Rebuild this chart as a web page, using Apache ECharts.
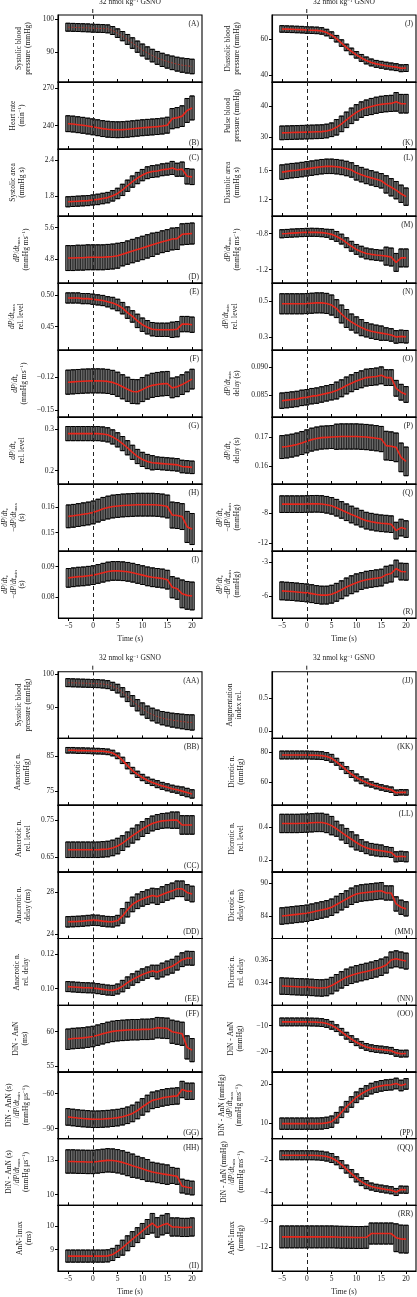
<!DOCTYPE html>
<html><head><meta charset="utf-8">
<script src="https://cdn.jsdelivr.net/npm/echarts@6/dist/echarts.min.js"></script>
<style>html,body{margin:0;padding:0;background:#fff}#c{width:417px;height:1297px}</style>
</head><body><div id="c"></div>
<script>
// ---------------- DATA ----------------
const TIME = [-5,-4,-3,-2,-1,0,1,2,3,4,5,6,7,8,9,10,11,12,13,14,15,16,17,18,19,20];
const X_TICKS = [-5,0,5,10,15,20];
const TITLE_TEXT = '32 nmol kg{sup|−1} GSNO';

const A_mean = [97.5,97.45,97.4,97.35,97.3,97.2,97.15,97.1,97.0,96.5,95.7,94.8,93.8,92.7,91.6,90.6,89.7,88.9,88.2,87.6,87.1,86.7,86.3,86.0,85.8,85.6];
const A_err  = [1.2,1.2,1.2,1.2,1.2,1.2,1.2,1.2,1.2,1.2,1.3,1.4,1.5,1.6,1.7,1.8,1.85,1.9,1.95,2.0,2.0,2.05,2.1,2.15,2.2,2.2];
const A_ticks = [90,100];
const B_mean = [241.5,241.2,240.7,240.2,239.6,239.0,238.3,237.6,237.1,236.8,236.7,236.8,237.1,237.5,237.9,238.3,238.6,238.9,239.2,239.6,240.3,245.5,246.3,247.5,252.0,254.0];
const B_err  = [6.3,6.3,6.3,6.3,6.3,6.3,6.3,6.3,6.3,6.3,6.3,6.3,6.3,6.3,6.3,6.3,6.3,6.3,6.3,6.3,6.3,8,8,8.2,9.5,9.5];
const B_ticks = [240,270];
const C_mean = [1.70,1.705,1.71,1.715,1.72,1.73,1.74,1.755,1.77,1.80,1.84,1.90,1.97,2.04,2.10,2.15,2.19,2.21,2.22,2.24,2.25,2.27,2.24,2.25,2.13,2.12];
const C_err  = [0.085,0.085,0.085,0.085,0.085,0.085,0.088,0.088,0.088,0.088,0.088,0.095,0.095,0.095,0.095,0.095,0.1,0.1,0.1,0.1,0.1,0.11,0.11,0.12,0.13,0.13];
const C_ticks = [1.8,2.4];
const D_mean = [4.82,4.82,4.83,4.83,4.84,4.84,4.84,4.84,4.85,4.86,4.88,4.92,4.96,5.00,5.04,5.08,5.12,5.16,5.20,5.24,5.27,5.31,5.32,5.43,5.44,5.45];
const D_err  = [0.32,0.32,0.32,0.32,0.32,0.32,0.32,0.32,0.32,0.32,0.32,0.3,0.3,0.3,0.3,0.3,0.3,0.3,0.28,0.28,0.28,0.28,0.28,0.27,0.27,0.27];
const D_ticks = [4.8,5.6];
const E_mean = [0.495,0.495,0.495,0.494,0.494,0.493,0.492,0.491,0.489,0.487,0.484,0.479,0.472,0.466,0.459,0.453,0.449,0.446,0.445,0.445,0.445,0.445,0.446,0.454,0.454,0.453];
const E_err  = [0.008,0.008,0.008,0.008,0.008,0.008,0.008,0.008,0.008,0.009,0.009,0.009,0.009,0.009,0.0105,0.0105,0.0105,0.0105,0.0105,0.0105,0.0105,0.012,0.012,0.012,0.012,0.012];
const E_ticks = [0.45,0.50];
const F_mean = [-0.1243,-0.1240,-0.1237,-0.1234,-0.1232,-0.1231,-0.1231,-0.1232,-0.1236,-0.1245,-0.1262,-0.1285,-0.1308,-0.1328,-0.1330,-0.1310,-0.1288,-0.1272,-0.1264,-0.1258,-0.1255,-0.1295,-0.1285,-0.1265,-0.1240,-0.1215];
const F_err  = [0.011,0.011,0.011,0.011,0.011,0.011,0.011,0.011,0.011,0.011,0.011,0.011,0.011,0.011,0.011,0.011,0.011,0.011,0.011,0.011,0.011,0.009,0.009,0.009,0.009,0.009];
const F_ticks = [-0.15,-0.12];
const G_mean = [0.289,0.289,0.289,0.289,0.289,0.289,0.289,0.288,0.286,0.281,0.274,0.265,0.255,0.244,0.234,0.227,0.222,0.219,0.218,0.217,0.216,0.215,0.214,0.210,0.209,0.208];
const G_err  = [0.017,0.017,0.017,0.017,0.017,0.017,0.017,0.017,0.017,0.017,0.017,0.017,0.017,0.017,0.017,0.017,0.017,0.017,0.015,0.015,0.015,0.015,0.015,0.015,0.015,0.015];
const G_ticks = [0.2,0.3];
const H_mean = [0.1563,0.1565,0.1568,0.1571,0.1574,0.1578,0.1585,0.1592,0.1597,0.1601,0.1603,0.1605,0.1606,0.1607,0.1608,0.1608,0.1608,0.1608,0.1607,0.1605,0.1601,0.1568,0.1566,0.1562,0.1522,0.1514];
const H_err  = [0.0044,0.0044,0.0044,0.0044,0.0044,0.0044,0.0044,0.0044,0.0044,0.0044,0.0044,0.0044,0.0044,0.0044,0.0044,0.0044,0.0044,0.0044,0.0044,0.0044,0.0044,0.005,0.005,0.005,0.006,0.006];
const H_ticks = [0.15,0.16];
const I_mean = [0.0863,0.0865,0.0867,0.0868,0.0870,0.0872,0.0876,0.0880,0.0884,0.0886,0.0886,0.0885,0.0883,0.0880,0.0876,0.0872,0.0868,0.0865,0.0863,0.0861,0.0857,0.0832,0.0827,0.0810,0.0805,0.0803];
const I_err  = [0.0031,0.0031,0.0031,0.0031,0.0031,0.0031,0.0031,0.0031,0.0031,0.0031,0.0031,0.0031,0.0031,0.0031,0.0031,0.0031,0.0031,0.0031,0.0031,0.0031,0.0031,0.0035,0.0035,0.0046,0.0046,0.0046];
const I_ticks = [0.08,0.09];

const J_mean = [65.6,65.5,65.4,65.3,65.2,65.0,64.9,64.8,64.5,63.6,62.2,60.2,57.8,55.4,53.2,51.3,49.6,48.2,47.1,46.3,45.8,45.3,44.9,44.5,43.9,44.0];
const J_err  = [1.8,1.8,1.8,1.8,1.8,1.8,1.8,1.8,1.8,1.8,1.8,1.8,1.8,1.8,1.8,1.8,1.9,1.9,1.9,1.9,1.9,1.9,1.9,1.9,1.9,1.9];
const J_ticks = [40,60];
const K_mean = [31.5,31.55,31.6,31.65,31.7,31.75,31.8,31.85,31.9,32.1,32.5,33.3,34.4,35.7,37.0,38.1,39.0,39.6,40.0,40.4,40.7,40.9,41.0,41.5,40.9,40.9];
const K_err  = [2.2,2.2,2.2,2.2,2.2,2.2,2.2,2.2,2.2,2.2,2.2,2.5,2.5,2.5,2.5,2.5,2.5,2.5,2.6,2.6,2.6,2.6,2.6,3.0,3.0,3.0];
const K_ticks = [30,40];
const L_mean = [1.58,1.59,1.60,1.605,1.615,1.625,1.635,1.645,1.655,1.66,1.66,1.655,1.645,1.63,1.61,1.57,1.545,1.52,1.50,1.48,1.46,1.41,1.37,1.33,1.28,1.24];
const L_err  = [0.1,0.1,0.1,0.1,0.1,0.1,0.1,0.1,0.1,0.1,0.1,0.1,0.1,0.1,0.1,0.1,0.1,0.1,0.1,0.1,0.1,0.12,0.12,0.12,0.12,0.12];
const L_ticks = [1.2,1.6];
const M_mean = [-0.800,-0.797,-0.793,-0.790,-0.787,-0.785,-0.784,-0.785,-0.788,-0.795,-0.807,-0.83,-0.86,-0.90,-0.94,-0.975,-1.00,-1.02,-1.03,-1.037,-1.043,-1.05,-1.06,-1.12,-1.07,-1.07];
const M_err  = [0.045,0.045,0.045,0.045,0.045,0.045,0.045,0.045,0.045,0.045,0.055,0.055,0.055,0.055,0.055,0.055,0.06,0.06,0.06,0.06,0.06,0.1,0.1,0.1,0.1,0.1];
const M_ticks = [-1.2,-0.8];
const N_mean = [0.487,0.487,0.487,0.487,0.487,0.488,0.490,0.492,0.492,0.489,0.480,0.46,0.43,0.405,0.385,0.369,0.354,0.342,0.334,0.328,0.323,0.318,0.313,0.302,0.305,0.303];
const N_err  = [0.056,0.056,0.056,0.056,0.056,0.056,0.056,0.056,0.056,0.056,0.056,0.05,0.05,0.05,0.045,0.045,0.045,0.04,0.04,0.04,0.04,0.035,0.035,0.035,0.035,0.035];
const N_ticks = [0.3,0.5];
const O_mean = [0.0840,0.0841,0.0842,0.0843,0.0845,0.0846,0.0848,0.0849,0.0851,0.0853,0.0855,0.0858,0.0862,0.0867,0.0871,0.0875,0.0878,0.0881,0.0882,0.0883,0.0885,0.0881,0.0881,0.0862,0.0855,0.0851];
const O_err  = [0.00137,0.00137,0.00137,0.00137,0.00137,0.00137,0.00137,0.00137,0.00137,0.00137,0.00137,0.0015,0.0015,0.0015,0.0015,0.0015,0.0015,0.0015,0.0015,0.0015,0.0015,0.0014,0.0014,0.0014,0.0014,0.0014];
const O_ticks = [0.085,0.090];
const P_mean = [0.1666,0.1668,0.1671,0.1675,0.1680,0.1686,0.1692,0.1696,0.1699,0.1700,0.1701,0.1702,0.1703,0.1703,0.1703,0.1703,0.1702,0.1701,0.1699,0.1697,0.1694,0.1671,0.1669,0.1665,0.1630,0.1616];
const P_err  = [0.004,0.004,0.004,0.004,0.004,0.004,0.004,0.004,0.004,0.004,0.004,0.0044,0.0044,0.0044,0.0044,0.0044,0.0044,0.0044,0.0044,0.0044,0.0044,0.005,0.005,0.005,0.005,0.005];
const P_ticks = [0.16,0.17];
const Q_mean = [-6.8,-6.8,-6.8,-6.8,-6.8,-6.78,-6.76,-6.75,-6.78,-6.88,-7.02,-7.27,-7.56,-7.87,-8.17,-8.44,-8.72,-8.98,-9.12,-9.24,-9.33,-9.38,-9.45,-10.3,-9.9,-10.1];
const Q_err  = [1.1,1.1,1.1,1.1,1.1,1.1,1.1,1.1,1.1,1.1,1.1,1.1,1.1,1.1,1.1,1.1,1.1,1.1,1.1,1.1,1.1,1.1,1.1,1.1,1.1,1.1];
const Q_ticks = [-12,-8];
const R_mean = [-5.55,-5.58,-5.61,-5.65,-5.69,-5.73,-5.80,-5.88,-5.93,-5.93,-5.85,-5.68,-5.45,-5.20,-5.00,-4.83,-4.67,-4.55,-4.48,-4.42,-4.36,-4.10,-4.00,-3.55,-3.82,-3.84];
const R_err  = [0.8,0.8,0.8,0.8,0.8,0.8,0.8,0.8,0.8,0.8,0.8,0.8,0.8,0.8,0.8,0.8,0.75,0.75,0.75,0.75,0.75,0.75,0.75,0.75,0.75,0.75];
const R_ticks = [-6,-3];

const AA_mean = [97.5,97.45,97.4,97.35,97.3,97.25,97.2,97.1,96.9,96.4,95.7,94.6,93.3,92.0,90.7,89.6,88.6,87.9,87.3,86.8,86.5,86.2,86.0,85.8,85.6,85.5];
const AA_err  = [1.2,1.2,1.2,1.2,1.2,1.2,1.2,1.2,1.2,1.2,1.3,1.4,1.5,1.6,1.7,1.8,1.85,1.9,1.95,2.0,2.05,2.1,2.15,2.2,2.25,2.3];
const AA_ticks = [90,100];
const BB_mean = [86.6,86.6,86.5,86.5,86.45,86.4,86.35,86.3,86.15,85.8,85.0,83.7,82.2,80.8,79.7,78.8,78.0,77.4,76.9,76.4,76.0,75.6,75.3,74.9,74.5,74.1];
const BB_err  = [0.8,0.8,0.8,0.8,0.8,0.8,0.8,0.8,0.8,0.8,0.8,0.9,0.9,0.9,0.9,0.9,0.9,0.9,1.0,1.0,1.0,1.0,1.0,1.2,1.2,1.2];
const BB_ticks = [75,85];
const CC_mean = [0.669,0.669,0.669,0.669,0.669,0.669,0.669,0.670,0.671,0.674,0.679,0.687,0.697,0.707,0.716,0.725,0.733,0.740,0.744,0.747,0.748,0.749,0.749,0.736,0.736,0.736];
const CC_err  = [0.021,0.021,0.021,0.021,0.021,0.021,0.021,0.021,0.021,0.021,0.021,0.02,0.02,0.02,0.02,0.02,0.02,0.02,0.02,0.02,0.02,0.022,0.022,0.025,0.025,0.025];
const CC_ticks = [0.65,0.75];
const DD_mean = [25.18,25.2,25.22,25.25,25.3,25.34,25.32,25.25,25.2,25.18,25.3,25.75,26.35,26.85,27.15,27.38,27.55,27.7,27.6,27.8,28.0,28.15,28.35,28.35,28.0,27.85];
const DD_err  = [0.5,0.5,0.5,0.5,0.5,0.5,0.5,0.5,0.5,0.5,0.5,0.7,0.7,0.7,0.7,0.7,0.7,0.7,0.75,0.75,0.75,0.75,0.75,0.75,0.75,0.75];
const DD_ticks = [24,28];
const EE_mean = [0.1012,0.1010,0.1008,0.1006,0.1005,0.1004,0.1000,0.0996,0.0992,0.0990,0.0998,0.1015,0.1035,0.1053,0.1068,0.1082,0.1093,0.1103,0.1096,0.1108,0.1120,0.1130,0.1148,0.1168,0.1177,0.1176];
const EE_err  = [0.0029,0.0029,0.0029,0.0029,0.0029,0.0029,0.0029,0.0029,0.0029,0.0029,0.0029,0.0033,0.0033,0.0033,0.0033,0.0033,0.0033,0.0033,0.004,0.004,0.004,0.004,0.004,0.004,0.004,0.004];
const EE_ticks = [0.10,0.12];
const FF_mean = [58.9,59.0,59.05,59.1,59.2,59.3,59.5,59.7,59.9,60.05,60.15,60.2,60.25,60.3,60.3,60.35,60.35,60.4,60.6,60.55,60.5,60.0,59.85,59.7,57.7,57.3];
const FF_err  = [1.5,1.5,1.5,1.5,1.5,1.5,1.5,1.5,1.5,1.5,1.5,1.5,1.5,1.5,1.5,1.5,1.5,1.5,1.5,1.5,1.5,1.7,1.7,1.7,1.7,1.7];
const FF_ticks = [55,60];
const GG_mean = [-80.0,-80.5,-81.0,-81.4,-81.7,-82.0,-82.0,-81.8,-81.5,-81.1,-80.6,-79.8,-78.6,-77.0,-74.5,-71.4,-68.5,-65.8,-64.8,-63.7,-62.9,-62.4,-62.0,-56.5,-58.0,-58.0];
const GG_err  = [7.1,7.1,7.1,7.1,7.1,7.1,7.1,7.1,7.1,7.1,7.1,7.1,7.1,7.1,7.1,7.1,7.1,7.1,7.1,7.1,7.1,7.0,7.0,7.0,7.0,7.0];
const GG_ticks = [-90,-60];
const HH_mean = [12.9,12.9,12.88,12.87,12.86,12.86,12.9,12.95,13.0,12.98,12.92,12.82,12.68,12.53,12.4,12.27,12.12,11.98,11.9,11.82,11.75,11.68,11.6,10.75,10.65,10.58];
const HH_err  = [1.02,1.02,1.02,1.02,1.02,1.02,1.02,1.02,1.02,1.02,1.02,1.02,1.02,1.02,0.95,0.95,0.95,0.85,0.85,0.85,0.85,0.7,0.7,0.6,0.6,0.6];
const HH_ticks = [10,13];
const II_mean = [8.72,8.72,8.72,8.72,8.72,8.72,8.72,8.72,8.73,8.79,8.92,9.08,9.27,9.45,9.62,9.8,9.97,10.13,9.95,10.05,10.12,9.97,9.97,9.95,9.95,9.97];
const II_err  = [0.26,0.26,0.26,0.26,0.26,0.26,0.26,0.26,0.26,0.26,0.26,0.32,0.32,0.32,0.32,0.32,0.32,0.42,0.42,0.42,0.42,0.39,0.39,0.39,0.39,0.39];
const II_ticks = [9,10];

const JJ_mean = [];
const JJ_err  = [];
const JJ_ticks = [0.0,0.5];
const KK_mean = [78.0,78.0,78.0,78.0,78.0,78.0,77.9,77.8,77.6,77.0,75.8,73.5,70.8,68.0,65.4,63.1,61.3,59.8,58.5,57.4,56.5,55.7,55.0,53.0,53.3,53.2];
const KK_err  = [2.6,2.6,2.6,2.6,2.6,2.6,2.6,2.6,2.6,2.6,2.6,2.3,2.3,2.3,2.3,2.3,2.3,2.3,1.8,1.8,1.8,1.8,1.8,1.8,1.8,1.8];
const KK_ticks = [60,80];
const LL_mean = [0.420,0.420,0.420,0.420,0.421,0.422,0.424,0.426,0.426,0.420,0.407,0.388,0.366,0.345,0.325,0.306,0.288,0.274,0.265,0.260,0.256,0.251,0.246,0.220,0.223,0.220];
const LL_err  = [0.055,0.055,0.055,0.055,0.055,0.055,0.055,0.055,0.055,0.055,0.055,0.045,0.045,0.045,0.045,0.045,0.035,0.035,0.035,0.035,0.035,0.03,0.03,0.03,0.03,0.03];
const LL_ticks = [0.2,0.4];
const MM_mean = [84.0,84.1,84.2,84.3,84.4,84.5,84.7,84.9,85.1,85.3,85.6,86.1,86.6,87.1,87.6,88.0,88.2,88.3,88.4,88.5,88.6,88.2,88.2,86.2,85.6,85.3];
const MM_err  = [1.5,1.5,1.5,1.5,1.5,1.5,1.5,1.5,1.5,1.5,1.5,1.5,1.5,1.5,1.5,1.5,1.5,1.5,1.5,1.5,1.5,1.3,1.3,1.3,1.3,1.3];
const MM_ticks = [84,90];
const NN_mean = [0.3371,0.3369,0.3367,0.3365,0.3363,0.3362,0.3359,0.3356,0.3354,0.3358,0.3375,0.3400,0.3425,0.3448,0.3465,0.3478,0.3489,0.3499,0.3510,0.3522,0.3536,0.3555,0.3600,0.3610,0.3600,0.3590];
const NN_err  = [0.0072,0.0072,0.0072,0.0072,0.0072,0.0072,0.0072,0.0072,0.0072,0.0072,0.0072,0.0072,0.0072,0.0072,0.0072,0.0072,0.0072,0.0072,0.0072,0.0072,0.0072,0.007,0.007,0.007,0.007,0.007];
const NN_ticks = [0.34,0.36];
const OO_mean = [-8.6,-8.6,-8.6,-8.6,-8.6,-8.6,-8.65,-8.7,-8.85,-9.2,-9.9,-11.0,-12.4,-13.9,-15.2,-16.4,-17.4,-18.2,-18.7,-19.0,-19.2,-19.45,-19.7,-20.5,-20.8,-20.75];
const OO_err  = [1.5,1.5,1.5,1.5,1.5,1.5,1.5,1.5,1.5,1.5,1.5,1.3,1.3,1.3,1.3,1.3,1.3,1.3,1.3,1.3,1.3,1.3,1.3,1.3,1.3,1.3];
const OO_ticks = [-20,-10];
const PP_mean = [9.9,9.9,9.9,9.9,9.9,9.9,9.9,9.9,9.95,10.1,10.4,11.4,12.8,14.2,15.4,16.6,17.5,18.2,18.8,19.2,19.5,19.7,19.8,20.1,19.6,20.0];
const PP_err  = [1.44,1.44,1.44,1.44,1.44,1.44,1.44,1.44,1.44,1.44,1.44,1.35,1.35,1.35,1.35,1.35,1.35,1.35,1.35,1.35,1.35,1.35,1.35,1.35,1.35,1.35];
const PP_ticks = [10,20];
const QQ_mean = [-1.69,-1.69,-1.69,-1.69,-1.69,-1.69,-1.69,-1.7,-1.72,-1.77,-1.86,-2.03,-2.27,-2.55,-2.83,-3.1,-3.33,-3.52,-3.64,-3.72,-3.77,-3.82,-3.87,-3.98,-3.83,-3.84];
const QQ_err  = [0.28,0.28,0.28,0.28,0.28,0.28,0.28,0.28,0.28,0.28,0.28,0.25,0.25,0.25,0.25,0.25,0.25,0.25,0.22,0.22,0.22,0.22,0.22,0.22,0.22,0.22];
const QQ_ticks = [-4,-2];
const RR_mean = [-10.8,-10.8,-10.8,-10.8,-10.8,-10.8,-10.8,-10.8,-10.8,-10.8,-10.8,-10.82,-10.84,-10.85,-10.86,-10.87,-10.87,-10.85,-10.4,-10.4,-10.4,-10.4,-10.4,-10.9,-11.05,-11.07];
const RR_err  = [1.3,1.3,1.3,1.3,1.3,1.3,1.3,1.3,1.3,1.3,1.3,1.3,1.3,1.3,1.3,1.3,1.3,1.3,1.25,1.25,1.25,1.25,1.25,1.65,1.65,1.65];
const RR_ticks = [-12,-9];

// ---------------- PANELS (text + axis ranges) ----------------
const DPDT = '{i|dP}/{i|dt}';
const BLOCKS = [
 [
  {id:'A', mean:A_mean, err:A_err, ticks:A_ticks, min:80.9, max:101.2, dec:0, gap:26, lp:'t', under:true, name:'Systolic blood\npressure (mmHg)'},
  {id:'B', mean:B_mean, err:B_err, ticks:B_ticks, min:221.4, max:274.6, dec:0, gap:32, lp:'b', name:'Heart rate\n(min{sup|−1})'},
  {id:'C', mean:C_mean, err:C_err, ticks:C_ticks, min:1.46, max:2.59, dec:1, gap:32, lp:'t', name:'Systolic area\n(mmHg s)'},
  {id:'D', mean:D_mean, err:D_err, ticks:D_ticks, min:4.18, max:5.90, dec:1, gap:28, lp:'b', name:DPDT+'{sub|max}\n(mmHg ms{sup|−1})'},
  {id:'E', mean:E_mean, err:E_err, ticks:E_ticks, min:0.4133, max:0.5185, dec:2, gap:33, lp:'t', name:DPDT+'{sub|max}\nrel. level'},
  {id:'F', mean:F_mean, err:F_err, ticks:F_ticks, min:-0.1561, max:-0.0949, dec:2, gap:30, lp:'t', name:DPDT+'{sub|z}\n(mmHg ms{sup|−1})'},
  {id:'G', mean:G_mean, err:G_err, ticks:G_ticks, min:0.168, max:0.3288, dec:1, gap:32, lp:'t', name:DPDT+'{sub|z}\nrel. level'},
  {id:'H', mean:H_mean, err:H_err, ticks:H_ticks, min:0.1429, max:0.1688, dec:2, gap:32, lp:'t', name:DPDT+'{sub|z}\n−'+DPDT+'{sub|max}\n(s)'},
  {id:'I', mean:I_mean, err:I_err, ticks:I_ticks, min:0.073, max:0.0952, dec:2, gap:32, lp:'t', name:DPDT+'{sub|z}\n−'+DPDT+'{sub|min}\n(s)'}
 ],
 [
  {id:'J', mean:J_mean, err:J_err, ticks:J_ticks, min:36.3, max:73.3, dec:0, gap:31, lp:'t', name:'Diastolic blood\npressure (mmHg)'},
  {id:'K', mean:K_mean, err:K_err, ticks:K_ticks, min:26.3, max:47.9, dec:0, gap:31, lp:'b', name:'Pulse blood\npressure (mmHg)'},
  {id:'L', mean:L_mean, err:L_err, ticks:L_ticks, min:0.972, max:1.90, dec:1, gap:31, lp:'t', name:'Diastolic area\n(mmHg s)'},
  {id:'M', mean:M_mean, err:M_err, ticks:M_ticks, min:-1.35, max:-0.602, dec:1, gap:31, lp:'t', name:DPDT+'{sub|min}\n(mmHg ms{sup|−1})'},
  {id:'N', mean:N_mean, err:N_err, ticks:N_ticks, min:0.229, max:0.603, dec:1, gap:33, lp:'t', name:DPDT+'{sub|min}\nrel. level'},
  {id:'O', mean:O_mean, err:O_err, ticks:O_ticks, min:0.0811, max:0.093, dec:3, gap:31, lp:'t', name:DPDT+'{sub|min}\ndelay (s)'},
  {id:'P', mean:P_mean, err:P_err, ticks:P_ticks, min:0.1537, max:0.1771, dec:2, gap:31, lp:'t', name:DPDT+'{sub|z}\ndelay (s)'},
  {id:'Q', mean:Q_mean, err:Q_err, ticks:Q_ticks, min:-13.0, max:-4.13, dec:0, gap:31, lp:'t', name:DPDT+'{sub|z}\n−'+DPDT+'{sub|min}\n(mmHg)'},
  {id:'R', mean:R_mean, err:R_err, ticks:R_ticks, min:-7.98, max:-1.98, dec:0, gap:31, lp:'b', name:DPDT+'{sub|z}\n−'+DPDT+'{sub|min}\n(mmHg)'}
 ],
 [
  {id:'AA', mean:AA_mean, err:AA_err, ticks:AA_ticks, min:80.7, max:100.8, dec:0, gap:26, lp:'t', under:true, name:'Systolic blood\npressure (mmHg)'},
  {id:'BB', mean:BB_mean, err:BB_err, ticks:BB_ticks, min:70.9, max:90.0, dec:0, gap:27, lp:'t', name:'Anacrotic n.\n(mmHg)'},
  {id:'CC', mean:CC_mean, err:CC_err, ticks:CC_ticks, min:0.6095, max:0.7896, dec:2, gap:26, lp:'b', name:'Anacrotic n.\nrel. level'},
  {id:'DD', mean:DD_mean, err:DD_err, ticks:DD_ticks, min:23.58, max:29.98, dec:0, gap:26, lp:'b', name:'Anacrotic n.\ndelay (ms)'},
  {id:'EE', mean:EE_mean, err:EE_err, ticks:EE_ticks, min:0.0904, max:0.1291, dec:2, gap:28, lp:'b', name:'Anacrotic n.\nrel. delay'},
  {id:'FF', mean:FF_mean, err:FF_err, ticks:FF_ticks, min:54.1, max:63.9, dec:0, gap:29, lp:'t', name:'DiN - AnN\n(ms)'},
  {id:'GG', mean:GG_mean, err:GG_err, ticks:GG_ticks, min:-98.6, max:-41.4, dec:0, gap:28, lp:'b', name:'DiN - AnN (s)\n/'+DPDT+'{sub|min}\n(mmHg μs{sup|−1})'},
  {id:'HH', mean:HH_mean, err:HH_err, ticks:HH_ticks, min:9.07, max:14.9, dec:0, gap:28, lp:'t', name:'DiN - AnN (s)\n/'+DPDT+'{sub|max}\n(mmHg μs{sup|−1})'},
  {id:'II', mean:II_mean, err:II_err, ticks:II_ticks, min:8.08, max:10.9, dec:0, gap:25, lp:'b', name:'AnN-1max\n(ms)'}
 ],
 [
  {id:'JJ', mean:JJ_mean, err:JJ_err, ticks:JJ_ticks, min:-0.106, max:0.904, dec:1, gap:29, lp:'t', name:'Augmentation\nindex rel.'},
  {id:'KK', mean:KK_mean, err:KK_err, ticks:KK_ticks, min:44.8, max:89.0, dec:0, gap:27, lp:'t', name:'Dicrotic n.\n(mmHg)'},
  {id:'LL', mean:LL_mean, err:LL_err, ticks:LL_ticks, min:0.13, max:0.53, dec:1, gap:27, lp:'t', name:'Dicrotic n.\nrel. level'},
  {id:'MM', mean:MM_mean, err:MM_err, ticks:MM_ticks, min:79.9, max:92.06, dec:0, gap:27, lp:'b', name:'Dicrotic n.\ndelay (ms)'},
  {id:'NN', mean:NN_mean, err:NN_err, ticks:NN_ticks, min:0.3203, max:0.3788, dec:2, gap:27, lp:'b', name:'Dicrotic n.\nrel. delay'},
  {id:'OO', mean:OO_mean, err:OO_err, ticks:OO_ticks, min:-27.8, max:-2.18, dec:0, gap:28, lp:'t', name:'DiN - AnN\n(mmHg)'},
  {id:'PP', mean:PP_mean, err:PP_err, ticks:PP_ticks, min:6.1, max:23.05, dec:0, gap:29, lp:'b', name:'DiN - AnN (mmHg)\n/'+DPDT+'{sub|max}\n(mmHg ms{sup|−1})'},
  {id:'QQ', mean:QQ_mean, err:QQ_err, ticks:QQ_ticks, min:-4.81, max:-0.65, dec:0, gap:27, lp:'t', name:'DiN - AnN (mmHg)\n/'+DPDT+'{sub|min}\n(mmHg ms{sup|−1})'},
  {id:'RR', mean:RR_mean, err:RR_err, ticks:RR_ticks, min:-14.85, max:-7.05, dec:0, gap:27, lp:'t', name:'AnN-1max\n(mmHg)'}
 ]
];

// ---------------- LAYOUT ----------------
const SERIF = '"Liberation Serif","DejaVu Serif",serif';
const COL_LEFT = [58, 272, 58, 272];
const PLOT_W = 144;
const BLOCK_TOP = [15, 15, 671.7, 671.7];
const ROW_H = [67, 67, 66.7, 66.7];
const TXT = '#222';

const richStyles = {
  i: {fontStyle:'italic', fontFamily:SERIF, fontSize:7.5, color:TXT},
  sub: {fontFamily:SERIF, fontSize:5, color:TXT, verticalAlign:'bottom', lineHeight:8},
  sup: {fontFamily:SERIF, fontSize:5, color:TXT, verticalAlign:'top', lineHeight:8}
};

function fmt(v, dec, minusChar){
  const s = Math.abs(v).toFixed(dec);
  return (v < 0 ? minusChar : '') + s;
}

// one error bar per sample: a grey body outlined in black, a centre stroke and end caps
function renderErr(params, api){
  const t = api.value(0), m = api.value(1), e = api.value(2);
  const hi = api.coord([t, m + e]);
  const lo = api.coord([t, m - e]);
  const w = api.size([1, 0])[0] * 0.96;
  const cw = w * 0.9;
  return {type:'group', children:[
    {type:'rect', shape:{x:hi[0]-w/2, y:hi[1], width:w, height:lo[1]-hi[1]}, style:{fill:'#6a6a6a', stroke:'#111', lineWidth:0.75}},
    {type:'line', shape:{x1:hi[0], y1:hi[1], x2:lo[0], y2:lo[1]}, style:{stroke:'#151515', lineWidth:0.8}},
    {type:'line', shape:{x1:hi[0]-cw/2, y1:hi[1], x2:hi[0]+cw/2, y2:hi[1]}, style:{stroke:'#000', lineWidth:1}},
    {type:'line', shape:{x1:lo[0]-cw/2, y1:lo[1], x2:lo[0]+cw/2, y2:lo[1]}, style:{stroke:'#000', lineWidth:1}}
  ]};
}

const grids=[], xAxes=[], yAxes=[], series=[];
const letterSpecs = [];
BLOCKS.forEach((panels, b) => {
  panels.forEach((p, r) => {
    const k = grids.length;
    const left = COL_LEFT[b], h = ROW_H[b], top = BLOCK_TOP[b] + r*h;
    const last = (r === panels.length - 1);
    const minusChar = (b === 1) ? '-' : '−';
    grids.push({left:left, top:top, width:PLOT_W, height:h, show:true, borderColor:'#000', borderWidth:1.1, backgroundColor:'transparent'});
    xAxes.push({
      gridIndex:k, type:'value', min:-7, max:22,
      axisLine:{show:true, onZero:false, lineStyle:{color:'#000', width:1.1}},
      axisTick:{show:true, inside:!last, length:3, customValues:X_TICKS, lineStyle:{color:'#000', width:1}},
      axisLabel:{show:last, customValues:X_TICKS, margin:4, fontSize:7.5, fontFamily:SERIF, color:TXT,
        formatter:(v)=>fmt(v,0,'−')},
      splitLine:{show:false},
      name: last ? 'Time (s)' : '', nameLocation:'middle', nameGap:17,
      nameTextStyle:{fontFamily:SERIF, fontSize:7.5, color:TXT}
    });
    yAxes.push({
      gridIndex:k, type:'value', min:p.min, max:p.max,
      axisLine:{show:true, onZero:false, lineStyle:{color:'#000', width:1.1}},
      axisTick:{show:true, inside:false, length:3, customValues:p.ticks, lineStyle:{color:'#000', width:1}},
      axisLabel:{show:true, customValues:p.ticks, margin:4, fontSize:7.5, fontFamily:SERIF, color:TXT,
        formatter:(v)=>fmt(v,p.dec,minusChar)},
      splitLine:{show:false},
      name:p.name, nameLocation:'middle', nameRotate:90, nameGap:p.gap,
      nameTextStyle:{fontFamily:SERIF, fontSize:7.5, color:TXT, lineHeight:8.5, align:'center', rich:richStyles}
    });
    const errData = p.mean.map((m,i)=>[TIME[i], m, p.err[i]]);
    const lineData = p.mean.map((m,i)=>[TIME[i], m]);
    series.push({
      type:'custom', xAxisIndex:k, yAxisIndex:k, renderItem:renderErr, data:errData,
      encode:{x:0, y:1}, z:2, silent:true, clip:false
    });
    series.push({
      type:'line', xAxisIndex:k, yAxisIndex:k, data:lineData, showSymbol:false, symbol:'none',
      lineStyle: p.under ? {color:'#a8352c', width:1, type:[2,1.5]} : {color:'#e8261b', width:1.6},
      z:4, silent:true,
      markLine:{silent:true, symbol:['none','none'], label:{show:false}, animation:false,
        lineStyle:{color:'#222', type:[4,3], width:1}, data:[{xAxis:0}]}
    });
    letterSpecs.push({k, left, top, h, lp:p.lp, id:p.id});
  });
});

const chart = echarts.init(document.getElementById('c'), null, {renderer:'canvas', width:417, height:1297});
chart.setOption({
  animation:false, backgroundColor:'#fff',
  grid:grids, xAxis:xAxes, yAxis:yAxes, series:series
});

// text graphics: titles, panel letters, dashed-line extension above the first panel
const graphics = [];
[0,1,2,3].forEach(b => {
  const k0 = b*9;
  const x0 = chart.convertToPixel({xAxisIndex:k0}, 0);
  const top = BLOCK_TOP[b];
  graphics.push({type:'line', silent:true, shape:{x1:x0, y1:top-6, x2:x0, y2:top}, style:{stroke:'#222', lineWidth:1, lineDash:[4,3]}});
  const cx = COL_LEFT[b] + PLOT_W/2;
  graphics.push({type:'text', silent:true, x:cx, y: (b<2 ? 2 : 658), style:{text:TITLE_TEXT, align:'center', verticalAlign:'middle',
    fontFamily:SERIF, fontSize:7.5, fill:TXT, rich:{sup:{fontFamily:SERIF, fontSize:5, fill:TXT, verticalAlign:'top', lineHeight:8}}}});
});
letterSpecs.forEach(s => {
  const y = s.lp === 't' ? s.top + 9 : s.top + s.h - 6;
  graphics.push({type:'text', silent:true, x:s.left + PLOT_W - 3, y:y,
    style:{text:'('+s.id+')', align:'right', verticalAlign:'middle', fontFamily:SERIF, fontSize:7.5, fill:TXT}});
});
chart.setOption({graphic:graphics});
</script>
</body></html>
